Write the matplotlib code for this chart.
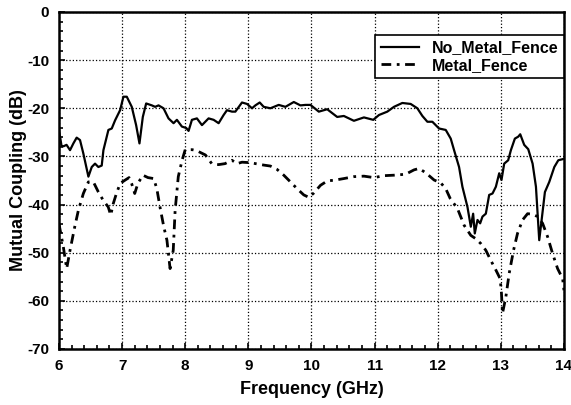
import matplotlib
matplotlib.use('Agg')
import matplotlib.pyplot as plt
from matplotlib.ticker import MultipleLocator

plt.rcParams['font.family'] = ['Liberation Sans', 'DejaVu Sans']
plt.rcParams['font.weight'] = 'bold'
plt.rcParams['axes.unicode_minus'] = False

# No_Metal_Fence curve (GHz, dB)
no_fence_freq = [6.00, 6.04, 6.07, 6.12, 6.175, 6.228, 6.28, 6.333, 6.386, 6.466,
                 6.519, 6.571, 6.624, 6.677, 6.704, 6.783, 6.836, 6.889, 6.968, 7.021,
                 7.074, 7.153, 7.222, 7.275, 7.328, 7.381, 7.471, 7.524, 7.577, 7.656,
                 7.735, 7.815, 7.868, 7.947, 8.016, 8.053, 8.106, 8.185, 8.265, 8.37,
                 8.45, 8.529, 8.608, 8.661, 8.741, 8.794, 8.899, 8.979, 9.058, 9.111,
                 9.18, 9.243, 9.349, 9.481, 9.587, 9.72, 9.825, 9.905, 9.984, 10.116,
                 10.249, 10.407, 10.513, 10.672, 10.831, 10.979, 11.069, 11.201, 11.307, 11.439,
                 11.571, 11.677, 11.757, 11.836, 11.915, 12.021, 12.127, 12.206, 12.259, 12.338,
                 12.391, 12.471, 12.524, 12.561, 12.587, 12.63, 12.672, 12.709, 12.762, 12.815,
                 12.868, 12.921, 12.974, 13.01, 13.053, 13.116, 13.159, 13.222, 13.275, 13.307,
                 13.37, 13.434, 13.503, 13.556, 13.608, 13.646, 13.698, 13.767, 13.847, 13.91,
                 14.0]
no_fence_db = [-24.5, -27.8, -27.9, -27.6, -28.7, -27.3, -26.1, -26.6, -29.4, -34.2,
               -32.2, -31.5, -32.2, -31.9, -28.7, -24.5, -24.2, -22.5, -20.4, -17.6,
               -17.6, -19.7, -23.5, -27.3, -21.8, -19.0, -19.4, -19.7, -19.4, -20.0,
               -22.1, -23.1, -22.4, -23.8, -24.1, -24.7, -22.4, -22.1, -23.5, -22.1,
               -22.4, -23.1, -21.4, -20.4, -20.7, -20.7, -18.8, -19.1, -20.0, -19.4,
               -18.8, -19.7, -20.0, -19.3, -19.7, -18.7, -19.4, -19.3, -19.3, -20.7,
               -20.2, -21.8, -21.6, -22.6, -21.9, -22.4, -21.4, -20.7, -19.7, -18.9,
               -19.1, -20.0, -21.6, -22.8, -22.8, -24.2, -24.5, -26.3, -28.7, -32.2,
               -36.3, -40.5, -44.6, -41.9, -46.0, -43.2, -43.9, -42.5, -41.9, -38.0,
               -37.7, -36.3, -33.5, -34.9, -31.5, -30.8, -28.7, -26.3, -25.9, -25.4,
               -27.6, -28.5, -31.5, -36.3, -47.4, -43.2, -37.4, -35.3, -32.2, -30.8,
               -30.5]

# Metal_Fence curve (GHz, dB)
fence_freq = [6.00, 6.069, 6.122, 6.175, 6.25, 6.307, 6.386, 6.466, 6.545, 6.624,
              6.70, 6.78, 6.82, 6.86, 6.91, 6.97, 7.05, 7.11, 7.15, 7.20,
              7.25, 7.33, 7.41, 7.50, 7.55, 7.60, 7.66, 7.71, 7.76, 7.81,
              7.84, 7.89, 7.95, 8.00, 8.11, 8.18, 8.32, 8.42, 8.53, 8.63,
              8.74, 8.82, 8.90, 9.03, 9.243, 9.349, 9.455, 9.561, 9.667, 9.772,
              9.878, 9.958, 10.037, 10.143, 10.249, 10.381, 10.513, 10.672, 10.831, 10.99,
              11.148, 11.307, 11.492, 11.624, 11.704, 11.81, 11.942, 12.048, 12.127, 12.196,
              12.312, 12.418, 12.524, 12.603, 12.682, 12.762, 12.841, 12.921, 12.989, 13.01,
              13.026, 13.079, 13.132, 13.201, 13.264, 13.344, 13.423, 13.503, 13.582, 13.661,
              13.741, 13.82, 13.899, 13.979, 14.0]
fence_db = [-44.0, -48.8, -53.3, -49.5, -44.6, -41.2, -37.7, -35.3, -35.3, -37.4,
            -39.1, -40.5, -42.2, -39.8, -37.7, -35.6, -34.9, -34.4, -35.6, -37.7,
            -35.6, -33.9, -34.4, -34.6, -36.7, -40.5, -44.6, -47.4, -53.3, -49.5,
            -41.2, -34.2, -30.8, -28.6, -28.6, -28.8, -29.7, -31.5, -31.7, -31.5,
            -30.8, -31.5, -31.2, -31.3, -31.8, -32.0, -32.7, -33.9, -35.3, -36.7,
            -38.0, -38.5, -37.6, -36.0, -35.1, -34.9, -34.6, -34.2, -34.1, -34.4,
            -34.0, -33.9, -33.7, -32.8, -32.5, -33.4, -34.9, -35.5, -36.7, -38.7,
            -40.8, -44.3, -46.4, -47.1, -48.1, -49.5, -51.6, -53.6, -55.4, -58.5,
            -62.6, -59.2, -54.3, -49.5, -46.0, -43.2, -41.9, -42.0, -42.5, -43.9,
            -46.7, -50.2, -53.3, -55.4, -57.8]


def main():
    fig = plt.figure(figsize=(5.71, 4.05), dpi=100)
    ax = fig.add_axes([0.1033, 0.1383, 0.8844, 0.8321])

    ax.plot(no_fence_freq, no_fence_db, color='black', linewidth=1.6,
            label='No_Metal_Fence')
    ax.plot(fence_freq, fence_db, color='black', linewidth=2.0,
            linestyle=(0, (3.5, 2, 1, 2)), label='Metal_Fence')

    ax.set_xlim(6, 14)
    ax.set_ylim(-70, 0)
    ax.xaxis.set_major_locator(MultipleLocator(1))
    ax.xaxis.set_minor_locator(MultipleLocator(0.2))
    ax.yaxis.set_major_locator(MultipleLocator(10))
    ax.yaxis.set_minor_locator(MultipleLocator(2))
    ax.tick_params(which='both', direction='in', width=1.2, labelsize=11)
    ax.tick_params(which='major', length=4, pad=7)
    ax.tick_params(which='minor', length=3.2)
    for lbl in ax.get_xticklabels() + ax.get_yticklabels():
        lbl.set_fontweight('bold')
    ax.grid(True, which='major', color='black', linestyle=':', linewidth=0.9)

    for sp in ax.spines.values():
        sp.set_linewidth(1.8)

    ax.set_xlabel('Frequency (GHz)', fontsize=13, fontweight='bold', labelpad=6)
    ax.set_ylabel('Mutual Coupling (dB)', fontsize=13, fontweight='bold', labelpad=0)

    leg = ax.legend(loc='upper right', bbox_to_anchor=(1.0, 0.932),
                    borderaxespad=0, fontsize=11.5, handlelength=2.4,
                    labelspacing=0.15, fancybox=False, framealpha=1,
                    borderpad=0.35, handletextpad=0.8)
    leg.get_frame().set_edgecolor('black')
    leg.get_frame().set_linewidth(1.2)
    for t in leg.get_texts():
        t.set_fontweight('bold')

    fig.savefig('out.png', dpi=100)


if __name__ == "__main__":
    main()
